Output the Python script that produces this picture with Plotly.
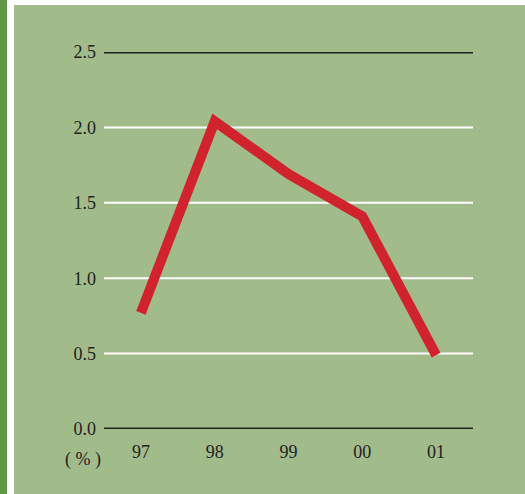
import plotly.graph_objects as go

years = ["97", "98", "99", "00", "01"]
values = [0.77, 2.04, 1.69, 1.41, 0.49]
y_ticks = [0.0, 0.5, 1.0, 1.5, 2.0, 2.5]
y_tick_labels = ["0.0", "0.5", "1.0", "1.5", "2.0", "2.5"]

W, H = 525, 494
L, R, T, B = 104, 52, 52, 65
pw = W - L - R
ph = H - T - B

def px_x(p):
    return (p - L) / pw

def px_y(p):
    return 1 - (p - T) / ph

BG = "#a2bb8b"
STRIPE = "#5f9745"
RED = "#d0232e"
FONT = "Liberation Serif"

fig = go.Figure()
fig.add_trace(go.Scatter(
    x=list(range(len(years))), y=values, mode="lines",
    line=dict(color=RED, width=10), hoverinfo="skip", showlegend=False,
))

shapes = [
    dict(type="rect", xref="paper", yref="paper", x0=px_x(0), x1=px_x(W), y0=px_y(0), y1=px_y(H),
         fillcolor="white", line_width=0, layer="below"),
    dict(type="rect", xref="paper", yref="paper", x0=px_x(14), x1=px_x(W), y0=px_y(5), y1=px_y(H),
         fillcolor=BG, line_width=0, layer="below"),
    dict(type="rect", xref="paper", yref="paper", x0=px_x(0), x1=px_x(7), y0=px_y(0), y1=px_y(H),
         fillcolor=STRIPE, line_width=0, layer="below"),
]
for v in y_ticks:
    black = v in (0.0, 2.5)
    shapes.append(dict(type="line", xref="paper", yref="y", x0=0, x1=1, y0=v, y1=v,
                       line=dict(color="#222222" if black else "white", width=3 if black else 2),
                       layer="below"))

fig.update_layout(
    width=W, height=H,
    margin=dict(l=L, r=R, t=T, b=B, pad=0),
    paper_bgcolor="white", plot_bgcolor="rgba(0,0,0,0)",
    shapes=shapes,
    font=dict(family=FONT, size=18, color="#222222"),
    xaxis=dict(range=[-0.5, 4.5], tickmode="array", tickvals=list(range(len(years))),
               ticktext=years, showgrid=False, zeroline=False, showline=False,
               ticks="", ticklabelstandoff=10, fixedrange=True),
    yaxis=dict(range=[0, 2.5], tickmode="array", tickvals=y_ticks, ticktext=y_tick_labels,
               showgrid=False, zeroline=False, showline=False, ticks="",
               ticklabelstandoff=7, fixedrange=True),
    annotations=[dict(text="(\u00a0%\u00a0)", xref="paper", yref="paper", x=px_x(83), y=px_y(459),
                      xanchor="center", yanchor="middle",
                      showarrow=False, font=dict(family=FONT, size=18, color="#222222"))],
)

fig.write_html("out.html")
